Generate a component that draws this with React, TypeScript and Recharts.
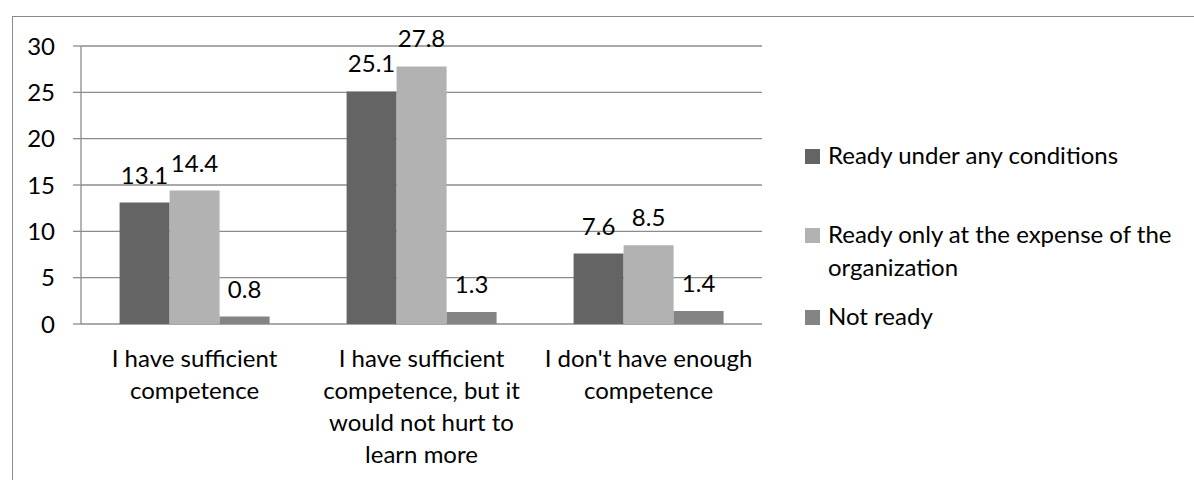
import React from "react";
import { Bar, BarChart, CartesianGrid, LabelList, XAxis, YAxis } from "recharts";

const categories = [
  "I have sufficient competence",
  "I have sufficient competence, but it would not hurt to learn more",
  "I don't have enough competence",
];
const categoryLines = [
  ["I have sufficient", "competence"],
  ["I have sufficient", "competence, but it", "would not hurt to", "learn more"],
  ["I don't have enough", "competence"],
];
const readyAny = [13.1, 25.1, 7.6];
const readyOrg = [14.4, 27.8, 8.5];
const notReady = [0.8, 1.3, 1.4];
const seriesKeys = ["readyAny", "readyOrg", "notReady"];
const seriesNames = [
  "Ready under any conditions",
  "Ready only at the expense of the organization",
  "Not ready",
];
const legendLines = [
  ["Ready under any conditions"],
  ["Ready only at the expense of the", "organization"],
  ["Not ready"],
];
const seriesColors = ["#646464", "#b2b2b2", "#848484"];
const yTicks = [0, 5, 10, 15, 20, 25, 30];
const edgeTicks = [0, 1, 2, 3];

const FONT = "Lato, 'Open Sans', sans-serif";
const GRID = "#8c8c8c";

const data = categories.map((name, i) => ({
  name,
  readyAny: readyAny[i],
  readyOrg: readyOrg[i],
  notReady: notReady[i],
}));

const CategoryTick = (props: any) => {
  const { x, y, index } = props;
  const lines = categoryLines[index] || [String(props.payload.value)];
  return (
    <text x={x} y={y} textAnchor="middle" fontFamily={FONT} fontSize={24} fill="#000">
      {lines.map((line, i) => (
        <tspan key={i} x={x} dy={i === 0 ? 43 : 32}>
          {line}
        </tspan>
      ))}
    </text>
  );
};

const legendTops = [138, 217, 299];

export default function App() {
  return (
    <div style={{ position: "absolute", left: 0, top: 0, width: 1194, height: 480, overflow: "hidden", background: "#fff" }}>
      <div
        style={{
          position: "absolute",
          left: 12,
          top: 16,
          width: 1220,
          height: 500,
          border: "1.5px solid #8a8a8a",
        }}
      />
      <div style={{ position: "absolute", left: 0, top: 0 }}>
        <BarChart
          width={1194}
          height={480}
          data={data}
          margin={{ top: 46, right: 432, bottom: 16, left: 0 }}
          barCategoryGap="17%"
          barGap={0}
        >
          <CartesianGrid vertical={false} stroke={GRID} strokeWidth={1.3} yAxisId="y" xAxisId="cat" />
          <XAxis
            xAxisId="edges"
            type="number"
            domain={[0, 3]}
            ticks={edgeTicks}
            allowDataOverflow
            height={0}
            tick={false}
            tickSize={8}
            stroke={GRID}
            strokeWidth={1.3}
          />
          <XAxis
            xAxisId="cat"
            dataKey="name"
            height={140}
            axisLine={false}
            tickLine={false}
            tickSize={0}
            tickMargin={0}
            interval={0}
            tick={<CategoryTick />}
          />
          <YAxis
            yAxisId="y"
            width={81}
            domain={[0, 30]}
            ticks={yTicks}
            interval={0}
            stroke={GRID}
            strokeWidth={1.3}
            tickSize={8}
            tickMargin={18}
            tick={{ fontFamily: FONT, fontSize: 24, fill: "#000" }}
          />
          {seriesKeys.map((key, i) => (
            <Bar
              key={key}
              dataKey={key}
              name={seriesNames[i]}
              fill={seriesColors[i]}
              xAxisId="cat"
              yAxisId="y"
              isAnimationActive={false}
            >
              <LabelList
                dataKey={key}
                position="top"
                offset={19}
                fontFamily={FONT}
                fontSize={24}
                fill="#000"
              />
            </Bar>
          ))}
        </BarChart>
      </div>
      {seriesNames.map((name, i) => (
        <div
          key={name}
          style={{
            position: "absolute",
            left: 805,
            top: legendTops[i],
            fontFamily: FONT,
            fontSize: 24,
            lineHeight: "33px",
            color: "#000",
          }}
        >
          <div
            style={{
              position: "absolute",
              left: 0,
              top: 11,
              width: 15,
              height: 15,
              background: seriesColors[i],
            }}
          />
          <div style={{ marginLeft: 23, whiteSpace: "nowrap" }}>
            {legendLines[i].map((line) => (
              <div key={line}>{line}</div>
            ))}
          </div>
        </div>
      ))}
    </div>
  );
}
